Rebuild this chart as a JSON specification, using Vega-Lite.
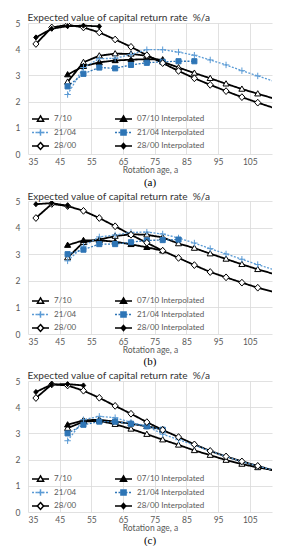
{
  "$schema": "https://vega.github.io/schema/vega-lite/v6.json",
  "padding": {"left": 15, "top": 12, "right": 5, "bottom": 0},
  "background": "white",
  "bounds": "flush",
  "spacing": 47,
  "resolve": {
    "scale": {"color": "independent", "strokeDash": "independent", "shape": "independent", "fill": "independent", "stroke": "independent"},
    "legend": {"color": "independent", "strokeDash": "independent", "shape": "independent", "fill": "independent", "stroke": "independent"}
  },
  "config": {
    "font": "Lato",
    "view": {"stroke": null},
    "axis": {"grid": true, "gridColor": "#d9d9d9", "gridWidth": 0.8, "domain": false, "ticks": false, "labelColor": "#595959", "labelFontSize": 8.5, "labelFont": "Lato"},
    "legend": {"orient": "none", "legendX": 3, "title": null, "columns": 2, "columnPadding": 37, "rowPadding": 3.5, "gridAlign": "each", "clipHeight": 10, "padding": 0, "labelFontSize": 8, "labelColor": "#595959", "labelFont": "Lato", "labelOffset": 4, "symbolSize": 289, "symbolStrokeWidth": 1.5}
  },
  "datasets": {
    "a": [
      {"series": "7/10", "age": 47.5, "rate": 2.75}, {"series": "7/10", "age": 52.5, "rate": 3.5}, {"series": "7/10", "age": 57.5, "rate": 3.75}, {"series": "7/10", "age": 62.5, "rate": 3.83}, {"series": "7/10", "age": 67.5, "rate": 3.82}, {"series": "7/10", "age": 72.5, "rate": 3.75}, {"series": "7/10", "age": 77.5, "rate": 3.52}, {"series": "7/10", "age": 82.5, "rate": 3.3}, {"series": "7/10", "age": 87.5, "rate": 3.09}, {"series": "7/10", "age": 92.5, "rate": 2.89}, {"series": "7/10", "age": 97.5, "rate": 2.68}, {"series": "7/10", "age": 102.5, "rate": 2.48}, {"series": "7/10", "age": 107.5, "rate": 2.3}, {"series": "7/10", "age": 112.5, "rate": 2.12},
      {"series": "07/10 Interpolated", "age": 47.5, "rate": 3.03}, {"series": "07/10 Interpolated", "age": 52.5, "rate": 3.35}, {"series": "07/10 Interpolated", "age": 57.5, "rate": 3.5}, {"series": "07/10 Interpolated", "age": 62.5, "rate": 3.57}, {"series": "07/10 Interpolated", "age": 67.5, "rate": 3.6}, {"series": "07/10 Interpolated", "age": 72.5, "rate": 3.62}, {"series": "07/10 Interpolated", "age": 77.5, "rate": 3.6},
      {"series": "21/04", "age": 47.5, "rate": 2.27}, {"series": "21/04", "age": 52.5, "rate": 3.3}, {"series": "21/04", "age": 57.5, "rate": 3.64}, {"series": "21/04", "age": 62.5, "rate": 3.65}, {"series": "21/04", "age": 67.5, "rate": 3.8}, {"series": "21/04", "age": 72.5, "rate": 3.98}, {"series": "21/04", "age": 77.5, "rate": 3.98}, {"series": "21/04", "age": 82.5, "rate": 3.89}, {"series": "21/04", "age": 87.5, "rate": 3.77}, {"series": "21/04", "age": 92.5, "rate": 3.59}, {"series": "21/04", "age": 97.5, "rate": 3.4}, {"series": "21/04", "age": 102.5, "rate": 3.18}, {"series": "21/04", "age": 107.5, "rate": 2.98}, {"series": "21/04", "age": 112.5, "rate": 2.78},
      {"series": "21/04 Interpolated", "age": 47.5, "rate": 2.58}, {"series": "21/04 Interpolated", "age": 52.5, "rate": 3.06}, {"series": "21/04 Interpolated", "age": 57.5, "rate": 3.3}, {"series": "21/04 Interpolated", "age": 62.5, "rate": 3.27}, {"series": "21/04 Interpolated", "age": 67.5, "rate": 3.4}, {"series": "21/04 Interpolated", "age": 72.5, "rate": 3.48}, {"series": "21/04 Interpolated", "age": 77.5, "rate": 3.52}, {"series": "21/04 Interpolated", "age": 82.5, "rate": 3.54}, {"series": "21/04 Interpolated", "age": 87.5, "rate": 3.54},
      {"series": "28/00", "age": 37.5, "rate": 4.2}, {"series": "28/00", "age": 42.5, "rate": 4.83}, {"series": "28/00", "age": 47.5, "rate": 4.93}, {"series": "28/00", "age": 52.5, "rate": 4.83}, {"series": "28/00", "age": 57.5, "rate": 4.64}, {"series": "28/00", "age": 62.5, "rate": 4.37}, {"series": "28/00", "age": 67.5, "rate": 4.09}, {"series": "28/00", "age": 72.5, "rate": 3.77}, {"series": "28/00", "age": 77.5, "rate": 3.47}, {"series": "28/00", "age": 82.5, "rate": 3.17}, {"series": "28/00", "age": 87.5, "rate": 2.89}, {"series": "28/00", "age": 92.5, "rate": 2.64}, {"series": "28/00", "age": 97.5, "rate": 2.4}, {"series": "28/00", "age": 102.5, "rate": 2.17}, {"series": "28/00", "age": 107.5, "rate": 1.96}, {"series": "28/00", "age": 112.5, "rate": 1.76},
      {"series": "28/00 Interpolated", "age": 37.5, "rate": 4.45}, {"series": "28/00 Interpolated", "age": 42.5, "rate": 4.78}, {"series": "28/00 Interpolated", "age": 47.5, "rate": 4.88}, {"series": "28/00 Interpolated", "age": 52.5, "rate": 4.9}, {"series": "28/00 Interpolated", "age": 57.5, "rate": 4.87}
    ],
    "b": [
      {"series": "7/10", "age": 47.5, "rate": 2.87}, {"series": "7/10", "age": 52.5, "rate": 3.45}, {"series": "7/10", "age": 57.5, "rate": 3.55}, {"series": "7/10", "age": 62.5, "rate": 3.68}, {"series": "7/10", "age": 67.5, "rate": 3.75}, {"series": "7/10", "age": 72.5, "rate": 3.73}, {"series": "7/10", "age": 77.5, "rate": 3.63}, {"series": "7/10", "age": 82.5, "rate": 3.4}, {"series": "7/10", "age": 87.5, "rate": 3.23}, {"series": "7/10", "age": 92.5, "rate": 3.02}, {"series": "7/10", "age": 97.5, "rate": 2.82}, {"series": "7/10", "age": 102.5, "rate": 2.62}, {"series": "7/10", "age": 107.5, "rate": 2.43}, {"series": "7/10", "age": 112.5, "rate": 2.26},
      {"series": "07/10 Interpolated", "age": 47.5, "rate": 3.34}, {"series": "07/10 Interpolated", "age": 52.5, "rate": 3.52}, {"series": "07/10 Interpolated", "age": 57.5, "rate": 3.52}, {"series": "07/10 Interpolated", "age": 62.5, "rate": 3.47}, {"series": "07/10 Interpolated", "age": 67.5, "rate": 3.37}, {"series": "07/10 Interpolated", "age": 72.5, "rate": 3.26}, {"series": "07/10 Interpolated", "age": 77.5, "rate": 3.13},
      {"series": "21/04", "age": 47.5, "rate": 2.75}, {"series": "21/04", "age": 52.5, "rate": 3.3}, {"series": "21/04", "age": 57.5, "rate": 3.65}, {"series": "21/04", "age": 62.5, "rate": 3.72}, {"series": "21/04", "age": 67.5, "rate": 3.82}, {"series": "21/04", "age": 72.5, "rate": 3.83}, {"series": "21/04", "age": 77.5, "rate": 3.76}, {"series": "21/04", "age": 82.5, "rate": 3.61}, {"series": "21/04", "age": 87.5, "rate": 3.42}, {"series": "21/04", "age": 92.5, "rate": 3.21}, {"series": "21/04", "age": 97.5, "rate": 3.01}, {"series": "21/04", "age": 102.5, "rate": 2.81}, {"series": "21/04", "age": 107.5, "rate": 2.61}, {"series": "21/04", "age": 112.5, "rate": 2.42},
      {"series": "21/04 Interpolated", "age": 47.5, "rate": 3.0}, {"series": "21/04 Interpolated", "age": 52.5, "rate": 3.17}, {"series": "21/04 Interpolated", "age": 57.5, "rate": 3.38}, {"series": "21/04 Interpolated", "age": 62.5, "rate": 3.38}, {"series": "21/04 Interpolated", "age": 67.5, "rate": 3.45}, {"series": "21/04 Interpolated", "age": 72.5, "rate": 3.52}, {"series": "21/04 Interpolated", "age": 77.5, "rate": 3.53}, {"series": "21/04 Interpolated", "age": 82.5, "rate": 3.55},
      {"series": "28/00", "age": 37.5, "rate": 4.36}, {"series": "28/00", "age": 42.5, "rate": 4.89}, {"series": "28/00", "age": 47.5, "rate": 4.81}, {"series": "28/00", "age": 52.5, "rate": 4.63}, {"series": "28/00", "age": 57.5, "rate": 4.36}, {"series": "28/00", "age": 62.5, "rate": 4.05}, {"series": "28/00", "age": 67.5, "rate": 3.73}, {"series": "28/00", "age": 72.5, "rate": 3.43}, {"series": "28/00", "age": 77.5, "rate": 3.13}, {"series": "28/00", "age": 82.5, "rate": 2.86}, {"series": "28/00", "age": 87.5, "rate": 2.59}, {"series": "28/00", "age": 92.5, "rate": 2.33}, {"series": "28/00", "age": 97.5, "rate": 2.13}, {"series": "28/00", "age": 102.5, "rate": 1.93}, {"series": "28/00", "age": 107.5, "rate": 1.74}, {"series": "28/00", "age": 112.5, "rate": 1.58},
      {"series": "28/00 Interpolated", "age": 37.5, "rate": 4.88}, {"series": "28/00 Interpolated", "age": 42.5, "rate": 4.92}, {"series": "28/00 Interpolated", "age": 47.5, "rate": 4.82}
    ],
    "c": [
      {"series": "7/10", "age": 47.5, "rate": 3.2}, {"series": "7/10", "age": 52.5, "rate": 3.45}, {"series": "7/10", "age": 57.5, "rate": 3.48}, {"series": "7/10", "age": 62.5, "rate": 3.35}, {"series": "7/10", "age": 67.5, "rate": 3.17}, {"series": "7/10", "age": 72.5, "rate": 2.97}, {"series": "7/10", "age": 77.5, "rate": 2.76}, {"series": "7/10", "age": 82.5, "rate": 2.56}, {"series": "7/10", "age": 87.5, "rate": 2.35}, {"series": "7/10", "age": 92.5, "rate": 2.17}, {"series": "7/10", "age": 97.5, "rate": 1.98}, {"series": "7/10", "age": 102.5, "rate": 1.83}, {"series": "7/10", "age": 107.5, "rate": 1.7}, {"series": "7/10", "age": 112.5, "rate": 1.6},
      {"series": "07/10 Interpolated", "age": 47.5, "rate": 3.33}, {"series": "07/10 Interpolated", "age": 52.5, "rate": 3.5}, {"series": "07/10 Interpolated", "age": 57.5, "rate": 3.52}, {"series": "07/10 Interpolated", "age": 62.5, "rate": 3.45}, {"series": "07/10 Interpolated", "age": 67.5, "rate": 3.37}, {"series": "07/10 Interpolated", "age": 72.5, "rate": 3.27}, {"series": "07/10 Interpolated", "age": 77.5, "rate": 3.15},
      {"series": "21/04", "age": 47.5, "rate": 2.72}, {"series": "21/04", "age": 52.5, "rate": 3.52}, {"series": "21/04", "age": 57.5, "rate": 3.65}, {"series": "21/04", "age": 62.5, "rate": 3.6}, {"series": "21/04", "age": 67.5, "rate": 3.42}, {"series": "21/04", "age": 72.5, "rate": 3.28}, {"series": "21/04", "age": 77.5, "rate": 2.97}, {"series": "21/04", "age": 82.5, "rate": 2.76}, {"series": "21/04", "age": 87.5, "rate": 2.55}, {"series": "21/04", "age": 92.5, "rate": 2.33}, {"series": "21/04", "age": 97.5, "rate": 2.12}, {"series": "21/04", "age": 102.5, "rate": 1.92}, {"series": "21/04", "age": 107.5, "rate": 1.75}, {"series": "21/04", "age": 112.5, "rate": 1.6},
      {"series": "21/04 Interpolated", "age": 47.5, "rate": 3.0}, {"series": "21/04 Interpolated", "age": 52.5, "rate": 3.33}, {"series": "21/04 Interpolated", "age": 57.5, "rate": 3.45}, {"series": "21/04 Interpolated", "age": 62.5, "rate": 3.45}, {"series": "21/04 Interpolated", "age": 67.5, "rate": 3.37}, {"series": "21/04 Interpolated", "age": 72.5, "rate": 3.27}, {"series": "21/04 Interpolated", "age": 77.5, "rate": 3.14},
      {"series": "28/00", "age": 37.5, "rate": 4.35}, {"series": "28/00", "age": 42.5, "rate": 4.87}, {"series": "28/00", "age": 47.5, "rate": 4.83}, {"series": "28/00", "age": 52.5, "rate": 4.63}, {"series": "28/00", "age": 57.5, "rate": 4.36}, {"series": "28/00", "age": 62.5, "rate": 4.05}, {"series": "28/00", "age": 67.5, "rate": 3.75}, {"series": "28/00", "age": 72.5, "rate": 3.43}, {"series": "28/00", "age": 77.5, "rate": 3.13}, {"series": "28/00", "age": 82.5, "rate": 2.86}, {"series": "28/00", "age": 87.5, "rate": 2.58}, {"series": "28/00", "age": 92.5, "rate": 2.33}, {"series": "28/00", "age": 97.5, "rate": 2.12}, {"series": "28/00", "age": 102.5, "rate": 1.93}, {"series": "28/00", "age": 107.5, "rate": 1.76}, {"series": "28/00", "age": 112.5, "rate": 1.58},
      {"series": "28/00 Interpolated", "age": 37.5, "rate": 4.58}, {"series": "28/00 Interpolated", "age": 42.5, "rate": 4.87}, {"series": "28/00 Interpolated", "age": 47.5, "rate": 4.88}, {"series": "28/00 Interpolated", "age": 52.5, "rate": 4.83}
    ]
  },
  "vconcat": [
    {
      "width": 244, "height": 131,
      "data": {"name": "a"},
      "title": {"text": "(a)", "orient": "bottom", "offset": 3, "font": "Liberation Serif", "fontSize": 11, "fontWeight": "normal", "color": "#000000"},
      "encoding": {
        "x": {"field": "age", "type": "quantitative", "scale": {"domain": [35, 112], "nice": false, "zero": false}, "axis": {"values": [35, 45, 55, 65, 75, 85, 95, 105], "title": "Rotation age, a", "titleFontSize": 8.5, "titleFontWeight": "normal", "titleColor": "#595959", "titlePadding": 0, "labelPadding": 3}},
        "y": {"field": "rate", "type": "quantitative", "scale": {"domain": [0, 5], "nice": false}, "axis": {"values": [0, 1, 2, 3, 4, 5], "title": "Expected value of capital return rate\u00a0 %/a", "titleAngle": 0, "titleX": -1, "titleY": -6, "titleAlign": "left", "titleBaseline": "middle", "titleFontSize": 10.1, "titleFontWeight": "normal", "titleColor": "#333333", "labelPadding": 8}}
      },
      "layer": [
        {"transform": [{"filter": "indexof(datum.series, '21/04') < 0"}], "mark": {"type": "line", "clip": true, "strokeWidth": 1.8},
         "encoding": {
          "color": {"field": "series", "type": "nominal", "scale": {"domain": ["7/10", "21/04", "28/00", "07/10 Interpolated", "21/04 Interpolated", "28/00 Interpolated"], "range": ["black", "#5b9bd5", "black", "black", "#2e75b6", "black"]}, "legend": {"legendY": 91}},
          "strokeDash": {"field": "series", "type": "nominal", "scale": {"domain": ["7/10", "21/04", "28/00", "07/10 Interpolated", "21/04 Interpolated", "28/00 Interpolated"], "range": [[1, 0], [2, 1.5], [1, 0], [1, 0], [2, 1.5], [1, 0]]}}}},
        {"transform": [{"filter": "indexof(datum.series, '21/04') >= 0"}], "mark": {"type": "line", "clip": true, "strokeWidth": 1.3},
         "encoding": {
          "color": {"field": "series", "type": "nominal", "scale": {"domain": ["7/10", "21/04", "28/00", "07/10 Interpolated", "21/04 Interpolated", "28/00 Interpolated"], "range": ["black", "#5b9bd5", "black", "black", "#2e75b6", "black"]}},
          "strokeDash": {"field": "series", "type": "nominal", "scale": {"domain": ["7/10", "21/04", "28/00", "07/10 Interpolated", "21/04 Interpolated", "28/00 Interpolated"], "range": [[1, 0], [2, 1.5], [1, 0], [1, 0], [2, 1.5], [1, 0]]}}}},
        {"transform": [{"filter": "datum.age <= 110"}], "mark": {"type": "point", "filled": false, "clip": true, "size": 289, "strokeWidth": 1, "opacity": 1},
         "encoding": {
          "shape": {"field": "series", "type": "nominal", "scale": {"domain": ["07/10 Interpolated", "21/04", "21/04 Interpolated", "28/00", "28/00 Interpolated", "7/10"], "range": ["M-1,0M1,0M0,-0.36L0.36,0.26L-0.36,0.26Z", "M-1,0M1,0M-0.38,0H0.38M0,-0.38V0.38", "M-1,0M1,0M-0.3,-0.3H0.3V0.3H-0.3Z", "M-1,0M1,0M0,-0.4L0.36,0L0,0.4L-0.36,0Z", "M-1,0M1,0M0,-0.3L0.26,0L0,0.3L-0.26,0Z", "M-1,0M1,0M0,-0.36L0.36,0.26L-0.36,0.26Z"]},
            "legend": {"legendY": 91, "labelOpacity": 0, "values": ["7/10", "21/04", "28/00", "07/10 Interpolated", "21/04 Interpolated", "28/00 Interpolated"]}},
          "fill": {"field": "series", "type": "nominal", "scale": {"domain": ["07/10 Interpolated", "21/04", "21/04 Interpolated", "28/00", "28/00 Interpolated", "7/10"], "range": ["black", "transparent", "#2e75b6", "white", "black", "white"]}},
          "stroke": {"field": "series", "type": "nominal", "scale": {"domain": ["07/10 Interpolated", "21/04", "21/04 Interpolated", "28/00", "28/00 Interpolated", "7/10"], "range": ["black", "#5b9bd5", "#2e75b6", "black", "black", "black"]}}
         }}
      ]
    },
    {
      "width": 244, "height": 133,
      "data": {"name": "b"},
      "title": {"text": "(b)", "orient": "bottom", "offset": 2, "font": "Liberation Serif", "fontSize": 11, "fontWeight": "normal", "color": "#000000"},
      "encoding": {
        "x": {"field": "age", "type": "quantitative", "scale": {"domain": [35, 112], "nice": false, "zero": false}, "axis": {"values": [35, 45, 55, 65, 75, 85, 95, 105], "title": "Rotation age, a", "titleFontSize": 8.5, "titleFontWeight": "normal", "titleColor": "#595959", "titlePadding": 0, "labelPadding": 3}},
        "y": {"field": "rate", "type": "quantitative", "scale": {"domain": [0, 5], "nice": false}, "axis": {"values": [0, 1, 2, 3, 4, 5], "title": "Expected value of capital return rate\u00a0 %/a", "titleAngle": 0, "titleX": -1, "titleY": -5, "titleAlign": "left", "titleBaseline": "middle", "titleFontSize": 10.1, "titleFontWeight": "normal", "titleColor": "#333333", "labelPadding": 8}}
      },
      "layer": [
        {"transform": [{"filter": "indexof(datum.series, '21/04') < 0"}], "mark": {"type": "line", "clip": true, "strokeWidth": 1.8},
         "encoding": {
          "color": {"field": "series", "type": "nominal", "scale": {"domain": ["7/10", "21/04", "28/00", "07/10 Interpolated", "21/04 Interpolated", "28/00 Interpolated"], "range": ["black", "#5b9bd5", "black", "black", "#2e75b6", "black"]}, "legend": {"legendY": 95}},
          "strokeDash": {"field": "series", "type": "nominal", "scale": {"domain": ["7/10", "21/04", "28/00", "07/10 Interpolated", "21/04 Interpolated", "28/00 Interpolated"], "range": [[1, 0], [2, 1.5], [1, 0], [1, 0], [2, 1.5], [1, 0]]}}}},
        {"transform": [{"filter": "indexof(datum.series, '21/04') >= 0"}], "mark": {"type": "line", "clip": true, "strokeWidth": 1.3},
         "encoding": {
          "color": {"field": "series", "type": "nominal", "scale": {"domain": ["7/10", "21/04", "28/00", "07/10 Interpolated", "21/04 Interpolated", "28/00 Interpolated"], "range": ["black", "#5b9bd5", "black", "black", "#2e75b6", "black"]}},
          "strokeDash": {"field": "series", "type": "nominal", "scale": {"domain": ["7/10", "21/04", "28/00", "07/10 Interpolated", "21/04 Interpolated", "28/00 Interpolated"], "range": [[1, 0], [2, 1.5], [1, 0], [1, 0], [2, 1.5], [1, 0]]}}}},
        {"transform": [{"filter": "datum.age <= 110"}], "mark": {"type": "point", "filled": false, "clip": true, "size": 289, "strokeWidth": 1, "opacity": 1},
         "encoding": {
          "shape": {"field": "series", "type": "nominal", "scale": {"domain": ["07/10 Interpolated", "21/04", "21/04 Interpolated", "28/00", "28/00 Interpolated", "7/10"], "range": ["M-1,0M1,0M0,-0.36L0.36,0.26L-0.36,0.26Z", "M-1,0M1,0M-0.38,0H0.38M0,-0.38V0.38", "M-1,0M1,0M-0.3,-0.3H0.3V0.3H-0.3Z", "M-1,0M1,0M0,-0.4L0.36,0L0,0.4L-0.36,0Z", "M-1,0M1,0M0,-0.3L0.26,0L0,0.3L-0.26,0Z", "M-1,0M1,0M0,-0.36L0.36,0.26L-0.36,0.26Z"]},
            "legend": {"legendY": 95, "labelOpacity": 0, "values": ["7/10", "21/04", "28/00", "07/10 Interpolated", "21/04 Interpolated", "28/00 Interpolated"]}},
          "fill": {"field": "series", "type": "nominal", "scale": {"domain": ["07/10 Interpolated", "21/04", "21/04 Interpolated", "28/00", "28/00 Interpolated", "7/10"], "range": ["black", "transparent", "#2e75b6", "white", "black", "white"]}},
          "stroke": {"field": "series", "type": "nominal", "scale": {"domain": ["07/10 Interpolated", "21/04", "21/04 Interpolated", "28/00", "28/00 Interpolated", "7/10"], "range": ["black", "#5b9bd5", "#2e75b6", "black", "black", "black"]}}
         }}
      ]
    },
    {
      "width": 244, "height": 131,
      "data": {"name": "c"},
      "title": {"text": "(c)", "orient": "bottom", "offset": 3, "font": "Liberation Serif", "fontSize": 11, "fontWeight": "normal", "color": "#000000"},
      "encoding": {
        "x": {"field": "age", "type": "quantitative", "scale": {"domain": [35, 112], "nice": false, "zero": false}, "axis": {"values": [35, 45, 55, 65, 75, 85, 95, 105], "title": "Rotation age, a", "titleFontSize": 8.5, "titleFontWeight": "normal", "titleColor": "#595959", "titlePadding": 0, "labelPadding": 3}},
        "y": {"field": "rate", "type": "quantitative", "scale": {"domain": [0, 5], "nice": false}, "axis": {"values": [0, 1, 2, 3, 4, 5], "title": "Expected value of capital return rate\u00a0 %/a", "titleAngle": 0, "titleX": -1, "titleY": -6, "titleAlign": "left", "titleBaseline": "middle", "titleFontSize": 10.1, "titleFontWeight": "normal", "titleColor": "#333333", "labelPadding": 8}}
      },
      "layer": [
        {"transform": [{"filter": "indexof(datum.series, '21/04') < 0"}], "mark": {"type": "line", "clip": true, "strokeWidth": 1.8},
         "encoding": {
          "color": {"field": "series", "type": "nominal", "scale": {"domain": ["7/10", "21/04", "28/00", "07/10 Interpolated", "21/04 Interpolated", "28/00 Interpolated"], "range": ["black", "#5b9bd5", "black", "black", "#2e75b6", "black"]}, "legend": {"legendY": 93}},
          "strokeDash": {"field": "series", "type": "nominal", "scale": {"domain": ["7/10", "21/04", "28/00", "07/10 Interpolated", "21/04 Interpolated", "28/00 Interpolated"], "range": [[1, 0], [2, 1.5], [1, 0], [1, 0], [2, 1.5], [1, 0]]}}}},
        {"transform": [{"filter": "indexof(datum.series, '21/04') >= 0"}], "mark": {"type": "line", "clip": true, "strokeWidth": 1.3},
         "encoding": {
          "color": {"field": "series", "type": "nominal", "scale": {"domain": ["7/10", "21/04", "28/00", "07/10 Interpolated", "21/04 Interpolated", "28/00 Interpolated"], "range": ["black", "#5b9bd5", "black", "black", "#2e75b6", "black"]}},
          "strokeDash": {"field": "series", "type": "nominal", "scale": {"domain": ["7/10", "21/04", "28/00", "07/10 Interpolated", "21/04 Interpolated", "28/00 Interpolated"], "range": [[1, 0], [2, 1.5], [1, 0], [1, 0], [2, 1.5], [1, 0]]}}}},
        {"transform": [{"filter": "datum.age <= 110"}], "mark": {"type": "point", "filled": false, "clip": true, "size": 289, "strokeWidth": 1, "opacity": 1},
         "encoding": {
          "shape": {"field": "series", "type": "nominal", "scale": {"domain": ["07/10 Interpolated", "21/04", "21/04 Interpolated", "28/00", "28/00 Interpolated", "7/10"], "range": ["M-1,0M1,0M0,-0.36L0.36,0.26L-0.36,0.26Z", "M-1,0M1,0M-0.38,0H0.38M0,-0.38V0.38", "M-1,0M1,0M-0.3,-0.3H0.3V0.3H-0.3Z", "M-1,0M1,0M0,-0.4L0.36,0L0,0.4L-0.36,0Z", "M-1,0M1,0M0,-0.3L0.26,0L0,0.3L-0.26,0Z", "M-1,0M1,0M0,-0.36L0.36,0.26L-0.36,0.26Z"]},
            "legend": {"legendY": 93, "labelOpacity": 0, "values": ["7/10", "21/04", "28/00", "07/10 Interpolated", "21/04 Interpolated", "28/00 Interpolated"]}},
          "fill": {"field": "series", "type": "nominal", "scale": {"domain": ["07/10 Interpolated", "21/04", "21/04 Interpolated", "28/00", "28/00 Interpolated", "7/10"], "range": ["black", "transparent", "#2e75b6", "white", "black", "white"]}},
          "stroke": {"field": "series", "type": "nominal", "scale": {"domain": ["07/10 Interpolated", "21/04", "21/04 Interpolated", "28/00", "28/00 Interpolated", "7/10"], "range": ["black", "#5b9bd5", "#2e75b6", "black", "black", "black"]}}
         }}
      ]
    }
  ]
}
